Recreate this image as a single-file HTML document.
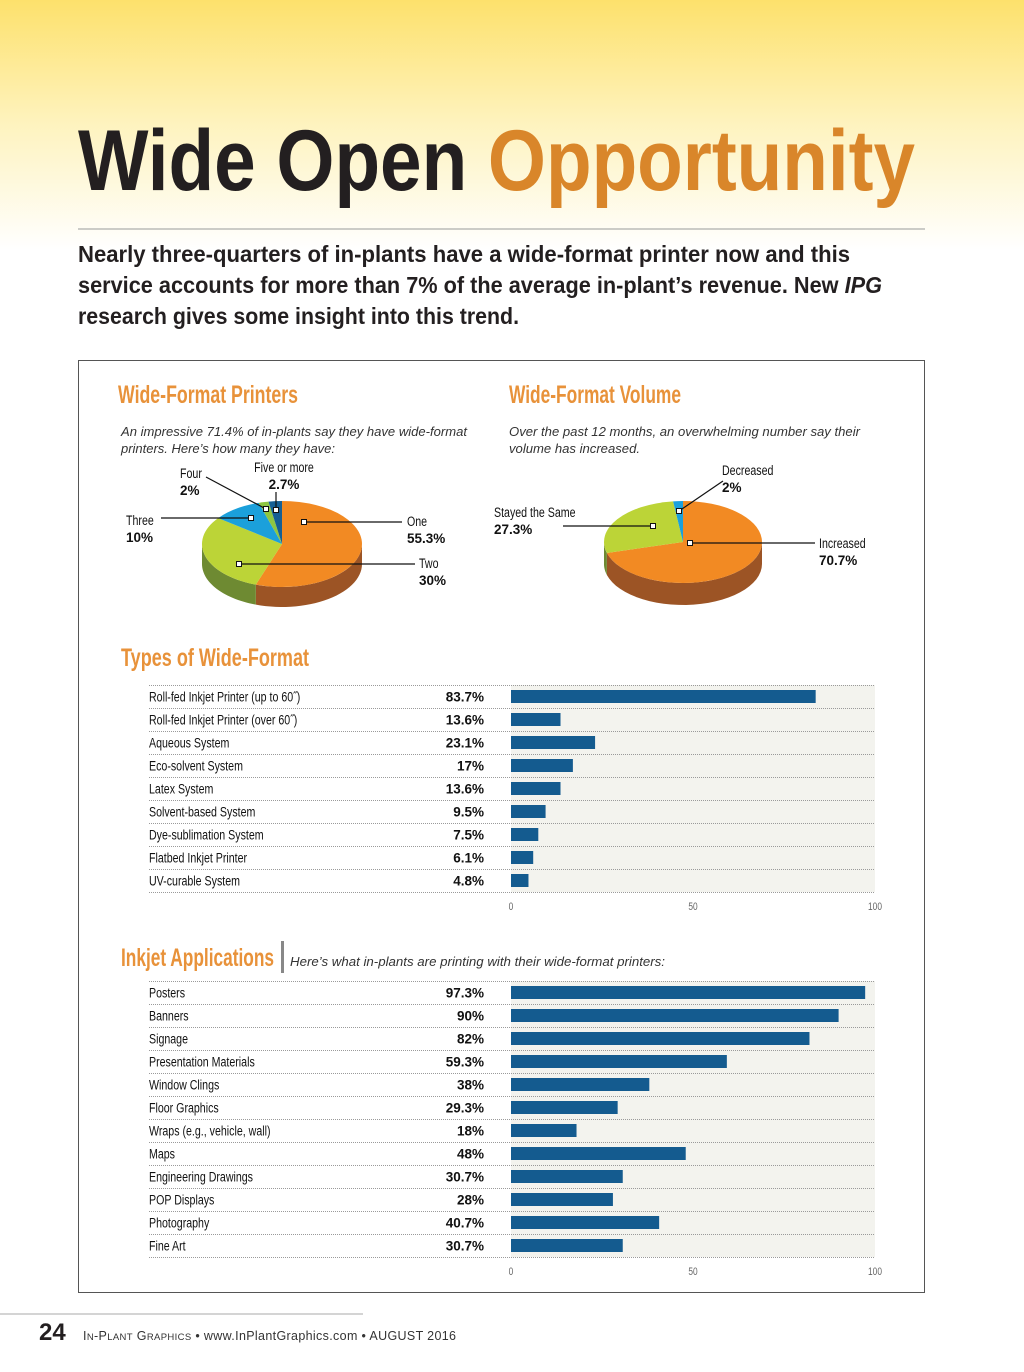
<!DOCTYPE html>
<html><head><meta charset="utf-8"><style>
html,body{margin:0;padding:0;background:#fff;}
svg{display:block}
.n{font-family:"Liberation Sans Narrow","Liberation Sans",sans-serif;}
.s{font-family:"Liberation Sans",sans-serif;}
</style></head><body>
<svg id="page" width="1024" height="1372" viewBox="0 0 1024 1372" xmlns="http://www.w3.org/2000/svg">
<defs><linearGradient id="bg" x1="0" y1="0" x2="0" y2="1"><stop offset="0" stop-color="#fde16c"/><stop offset="0.5" stop-color="#fef3bf"/><stop offset="1" stop-color="#ffffff"/></linearGradient></defs>
<rect x="0" y="0" width="1024" height="250" fill="url(#bg)"/>
<text class="s" x="78" y="190" font-size="86" font-weight="bold" textLength="837" lengthAdjust="spacingAndGlyphs" fill="#231f20">Wide Open <tspan fill="#d9862a">Opportunity</tspan></text>
<line x1="78" y1="229" x2="925" y2="229" stroke="#9a9a9a" stroke-width="1"/>
<g class="s" font-size="23" font-weight="bold" fill="#231f20">
<text x="78" y="262" textLength="772" lengthAdjust="spacingAndGlyphs">Nearly three-quarters of in-plants have a wide-format printer now and this</text>
<text x="78" y="293" textLength="804" lengthAdjust="spacingAndGlyphs">service accounts for more than 7% of the average in-plant’s revenue. New <tspan font-style="italic">IPG</tspan></text>
<text x="78" y="324" textLength="441" lengthAdjust="spacingAndGlyphs">research gives some insight into this trend.</text>
</g>
<rect x="78.5" y="360.5" width="846" height="932" fill="#fff" stroke="#555" stroke-width="1"/>

<g class="n" fill="#e8923a" font-size="25" font-weight="bold">
<text x="118" y="403" textLength="180" lengthAdjust="spacingAndGlyphs">Wide-Format Printers</text>
<text x="509" y="403" textLength="172" lengthAdjust="spacingAndGlyphs">Wide-Format Volume</text>
<text x="121" y="666" textLength="188" lengthAdjust="spacingAndGlyphs">Types of Wide-Format</text>
<text x="121" y="966" textLength="153" lengthAdjust="spacingAndGlyphs">Inkjet Applications</text>
</g>
<rect x="281" y="941" width="3" height="32" fill="#888"/>
<g class="s" font-size="13" font-style="italic" fill="#333">
<text x="121" y="436" textLength="346" lengthAdjust="spacingAndGlyphs">An impressive 71.4% of in-plants say they have wide-format</text>
<text x="121" y="453" textLength="214" lengthAdjust="spacingAndGlyphs">printers. Here’s how many they have:</text>
<text x="509" y="436" textLength="351" lengthAdjust="spacingAndGlyphs">Over the past 12 months, an overwhelming number say their</text>
<text x="509" y="453" textLength="131" lengthAdjust="spacingAndGlyphs">volume has increased.</text>
<text x="290" y="966" textLength="375" lengthAdjust="spacingAndGlyphs">Here’s what in-plants are printing with their wide-format printers:</text>
</g>
<g id="pies"></g>
<g id="bars"></g>

<line x1="0" y1="1314" x2="363" y2="1314" stroke="#aaa"/>
<text class="s" x="39" y="1340" font-size="24" font-weight="bold" fill="#231f20">24</text>
<text class="s" x="83" y="1340" font-size="12.5" fill="#333" textLength="373" lengthAdjust="spacing">I<tspan font-size="9.5">N</tspan>-P<tspan font-size="9.5">LANT</tspan> G<tspan font-size="9.5">RAPHICS</tspan>  •  www.InPlantGraphics.com  •  AUGUST 2016</text>
</svg>
<script>
const NS="http://www.w3.org/2000/svg";
// ---- Pie data ----
const printerLabels=["One","Two","Three","Four","Five or more"];
const printerValues=[55.3,30,10,2,2.7];
const volumeLabels=["Increased","Stayed the Same","Decreased"];
const volumeValues=[70.7,27.3,2];
// ---- Bar data ----
const typeCategories=["Roll-fed Inkjet Printer (up to 60˝)","Roll-fed Inkjet Printer (over 60˝)","Aqueous System","Eco-solvent System","Latex System","Solvent-based System","Dye-sublimation System","Flatbed Inkjet Printer","UV-curable System"];
const typeValues=[83.7,13.6,23.1,17,13.6,9.5,7.5,6.1,4.8];
const typePrinted=["83.7%","13.6%","23.1%","17%","13.6%","9.5%","7.5%","6.1%","4.8%"];
const appCategories=["Posters","Banners","Signage","Presentation Materials","Window Clings","Floor Graphics","Wraps (e.g., vehicle, wall)","Maps","Engineering Drawings","POP Displays","Photography","Fine Art"];
const appValues=[97.3,90,82,59.3,38,29.3,18,48,30.7,28,40.7,30.7];
const appPrinted=["97.3%","90%","82%","59.3%","38%","29.3%","18%","48%","30.7%","28%","40.7%","30.7%"];
const axisTicks=[0,50,100];

function mk(tag,attrs,parent){const e=document.createElementNS(NS,tag);for(const k in attrs)e.setAttribute(k,attrs[k]);parent.appendChild(e);return e;}
function narrow(x,y,txt,size,anchor,fill,parent){
  const e=mk('text',{x:0,y:0,transform:`translate(${x},${y}) scale(0.76,1)`,'font-size':size,'text-anchor':anchor,class:'s',fill:fill},parent);
  e.textContent=txt;return e;
}
const pies=document.getElementById('pies');
const bars=document.getElementById('bars');

function drawPie(g,cx,cy,rx,ry,d,values,tops,sides,name){
  const tot=values.reduce((a,b)=>a+b,0);
  const P=t=>[cx+rx*Math.sin(t),cy-ry*Math.cos(t)];
  let a=0;const angs=[];
  values.forEach(v=>{const b=a+v/tot*2*Math.PI;angs.push([a,b]);a=b;});
  angs.forEach(([s,e],i)=>{
    const lo=Math.max(s,Math.PI/2),hi=Math.min(e,Math.PI*1.5);
    if(hi<=lo)return;
    let pts=[];const N=30;
    for(let k=0;k<=N;k++){pts.push(P(lo+(hi-lo)*k/N));}
    let dstr="M"+pts.map(p=>p[0].toFixed(2)+","+p[1].toFixed(2)).join(" L");
    for(let k=N;k>=0;k--){const p=pts[k];dstr+=" L"+p[0].toFixed(2)+","+(p[1]+d).toFixed(2);}
    const el=mk('path',{d:dstr+"Z",fill:sides[i]},g);
    
    
  });
  angs.forEach(([s,e],i)=>{
    const p1=P(s),p2=P(e);const large=(e-s)>Math.PI?1:0;
    const el=mk('path',{d:`M${cx},${cy} L${p1[0]},${p1[1]} A${rx},${ry} 0 ${large} 1 ${p2[0]},${p2[1]} Z`,fill:tops[i]},g);
    
    
  });
}
const g1=mk('g',{},pies);


drawPie(g1,282,544,80,43,20,printerValues,["#f28a23","#bcd437","#1ba0db","#8ec641","#155f94"],["#9c5425","#6e8a32","#0f6a92","#5c7f2b","#0c3d60"],'printers');
const g2=mk('g',{},pies);


drawPie(g2,683,542,79,41,22,volumeValues,["#f28a23","#bcd437","#1ba0db"],["#9c5425","#6e8a32","#0f6a92"],'volume');

function leader(pts,sq,g){
  mk('polyline',{points:pts,fill:'none',stroke:'#111','stroke-width':1.2},g);
  mk('rect',{x:sq[0]-2.5,y:sq[1]-2.5,width:5,height:5,fill:'#fff',stroke:'#111','stroke-width':1},g);
}
function lbl(x,y,t,v,anchor,g){
  narrow(x,y,t,14,anchor,'#111',g);
  const f=mk('text',{x:x,y:y+17,'font-size':13.5,'font-weight':'bold','text-anchor':anchor,class:'s',fill:'#111'},g);f.textContent=v;
}
const lg=mk('g',{},pies);


leader("304,522 402,522",[304,522],lg); lbl(407,526,printerLabels[0],printerValues[0]+"%","start",lg);
leader("239,564 415,564",[239,564],lg); lbl(419,568,printerLabels[1],printerValues[1]+"%","start",lg);
leader("161,518 251,518",[251,518],lg); lbl(126,525,printerLabels[2],printerValues[2]+"%","start",lg);
leader("206,477 266,509",[266,509],lg); lbl(180,478,printerLabels[3],printerValues[3]+"%","start",lg);
leader("276,492 276,510",[276,510],lg); lbl(284,472,printerLabels[4],printerValues[4]+"%","middle",lg);
leader("690,543 815,543",[690,543],lg); lbl(819,548,volumeLabels[0],volumeValues[0]+"%","start",lg);
leader("563,526 653,526",[653,526],lg); lbl(494,517,volumeLabels[1],volumeValues[1]+"%","start",lg);
leader("723,481 679,511",[679,511],lg); lbl(722,475,volumeLabels[2],volumeValues[2]+"%","start",lg);

function drawBars(cats,vals,printed,top,name){
  const x0=511,x1=875,rowH=23,n=cats.length;
  const X=v=>x0+(x1-x0)*v/100;
  const g=mk('g',{},bars);
  
  
  mk('rect',{x:x0,y:top,width:x1-x0,height:rowH*n,fill:'#f3f3ee'},g);
  for(let i=0;i<=n;i++){
    mk('line',{x1:149,x2:875,y1:top+i*rowH+0.5,y2:top+i*rowH+0.5,stroke:'#9a9a9a','stroke-width':1,'stroke-dasharray':'1,1'},g);
  }
  cats.forEach((c,i)=>{
    const cy=top+i*rowH+rowH/2;
    const t=narrow(149,cy+5,c,14,'start','#111',g);
    
    
    const p=mk('text',{x:484,y:cy+5,'font-size':13.5,'font-weight':'bold','text-anchor':'end',class:'s',fill:'#111'},g);p.textContent=printed[i];
    
    
    const b=mk('rect',{x:x0,y:cy-6.5,width:X(vals[i])-x0,height:13,fill:'#145b8f'},g);
    
    
  });
  axisTicks.forEach(tk=>{
    const t=narrow(X(tk),top+rowH*n+18,String(tk),11,'middle','#666',g);
    
    
  });
}
drawBars(typeCategories,typeValues,typePrinted,685,'types-chart');
drawBars(appCategories,appValues,appPrinted,981,'inkjet-chart');
</script>
</body></html>
